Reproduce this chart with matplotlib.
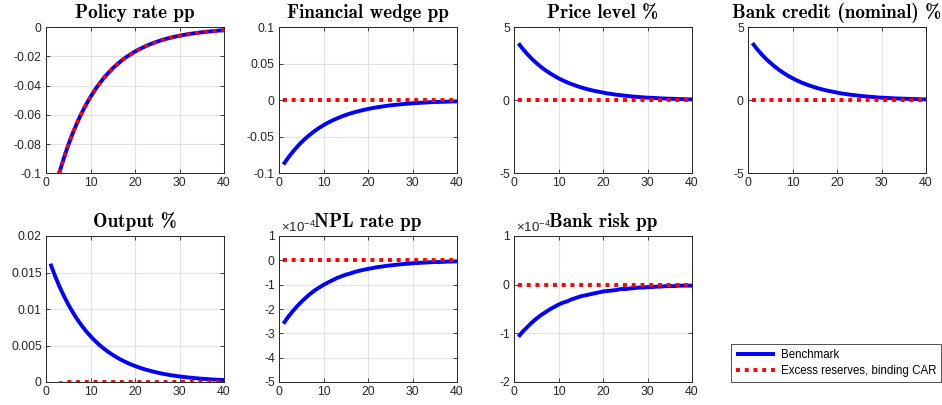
import matplotlib
matplotlib.use("Agg")
import matplotlib.pyplot as plt
import numpy as np

plt.rcParams['font.family'] = ['Liberation Sans', 'DejaVu Sans']
plt.rcParams['axes.unicode_minus'] = False
plt.rcParams['mathtext.fontset'] = 'custom'
plt.rcParams['mathtext.rm'] = 'Liberation Sans'
plt.rcParams['mathtext.it'] = 'Liberation Sans'

periods = list(range(1, 41))

policy_rate = [-0.1230, -0.1107, -0.0996, -0.0897, -0.0807, -0.0726, -0.0654, -0.0588, -0.0530, -0.0477,
               -0.0429, -0.0386, -0.0347, -0.0313, -0.0281, -0.0253, -0.0228, -0.0205, -0.0185, -0.0166,
               -0.0150, -0.0135, -0.0121, -0.0109, -0.0098, -0.0088, -0.0079, -0.0071, -0.0064, -0.0058,
               -0.0052, -0.0047, -0.0042, -0.0038, -0.0034, -0.0031, -0.0028, -0.0025, -0.0022, -0.0020]
policy_rate_alt = list(policy_rate)

fin_wedge = [-0.0880, -0.0792, -0.0713, -0.0642, -0.0577, -0.0520, -0.0468, -0.0421, -0.0379, -0.0341,
             -0.0307, -0.0276, -0.0249, -0.0224, -0.0201, -0.0181, -0.0163, -0.0147, -0.0132, -0.0119,
             -0.0107, -0.0096, -0.0087, -0.0078, -0.0070, -0.0063, -0.0057, -0.0051, -0.0046, -0.0041,
             -0.0037, -0.0034, -0.0030, -0.0027, -0.0024, -0.0022, -0.0020, -0.0018, -0.0016, -0.0014]
fin_wedge_alt = [0.0] * 40

price_level = [3.90, 3.51, 3.16, 2.84, 2.56, 2.30, 2.07, 1.87, 1.68, 1.51,
               1.36, 1.22, 1.10, 0.99, 0.89, 0.80, 0.72, 0.65, 0.59, 0.53,
               0.47, 0.43, 0.38, 0.35, 0.31, 0.28, 0.25, 0.23, 0.20, 0.18,
               0.17, 0.15, 0.13, 0.12, 0.11, 0.10, 0.09, 0.08, 0.07, 0.06]
price_level_alt = [0.0] * 40

bank_credit = [3.92, 3.52, 3.17, 2.85, 2.57, 2.31, 2.08, 1.87, 1.68, 1.51,
               1.36, 1.22, 1.10, 0.99, 0.89, 0.80, 0.72, 0.65, 0.59, 0.53,
               0.47, 0.43, 0.38, 0.35, 0.31, 0.28, 0.25, 0.23, 0.20, 0.18,
               0.17, 0.15, 0.13, 0.12, 0.11, 0.10, 0.09, 0.08, 0.07, 0.06]
bank_credit_alt = [0.0] * 40

output = [0.01620, 0.01458, 0.01312, 0.01181, 0.01063, 0.00957, 0.00861, 0.00775, 0.00697, 0.00628,
          0.00565, 0.00508, 0.00457, 0.00412, 0.00371, 0.00334, 0.00300, 0.00270, 0.00243, 0.00219,
          0.00197, 0.00177, 0.00160, 0.00144, 0.00129, 0.00116, 0.00105, 0.00094, 0.00085, 0.00076,
          0.00069, 0.00062, 0.00056, 0.00050, 0.00045, 0.00041, 0.00036, 0.00033, 0.00029, 0.00027]
output_alt = [-0.0006, -0.0004, -0.0002, -0.0001] + [0.0] * 36

# NPL rate and bank risk in units of 1e-4
npl_rate = [-2.60, -2.34, -2.11, -1.90, -1.71, -1.54, -1.38, -1.24, -1.12, -1.01,
            -0.91, -0.82, -0.73, -0.66, -0.59, -0.54, -0.48, -0.43, -0.39, -0.35,
            -0.32, -0.28, -0.26, -0.23, -0.21, -0.19, -0.17, -0.15, -0.14, -0.12,
            -0.11, -0.10, -0.09, -0.08, -0.07, -0.07, -0.06, -0.05, -0.05, -0.04]
npl_rate_alt = [0.0] * 40

bank_risk = [-1.07, -0.96, -0.87, -0.78, -0.70, -0.63, -0.57, -0.51, -0.46, -0.41,
             -0.37, -0.34, -0.30, -0.27, -0.24, -0.22, -0.20, -0.18, -0.16, -0.14,
             -0.13, -0.12, -0.11, -0.09, -0.09, -0.08, -0.07, -0.06, -0.06, -0.05,
             -0.05, -0.04, -0.04, -0.03, -0.03, -0.03, -0.02, -0.02, -0.02, -0.02]
bank_risk_alt = [0.0] * 40

titles = ['Policy rate pp', 'Financial wedge pp', 'Price level %', 'Bank credit (nominal) %',
          'Output %', 'NPL rate pp', 'Bank risk pp']
x_ticks = [0, 10, 20, 30, 40]
y_ticks = [
    [-0.1, -0.08, -0.06, -0.04, -0.02, 0],
    [-0.1, -0.05, 0, 0.05, 0.1],
    [-5, 0, 5],
    [-5, 0, 5],
    [0, 0.005, 0.01, 0.015, 0.02],
    [-5, -4, -3, -2, -1, 0, 1],
    [-2, -1, 0, 1],
]
y_ticklabels = [
    ['-0.1', '-0.08', '-0.06', '-0.04', '-0.02', '0'],
    ['-0.1', '-0.05', '0', '0.05', '0.1'],
    ['-5', '0', '5'],
    ['-5', '0', '5'],
    ['0', '0.005', '0.01', '0.015', '0.02'],
    ['-5', '-4', '-3', '-2', '-1', '0', '1'],
    ['-2', '-1', '0', '1'],
]
scale_labels = [None, None, None, None, None, r'$\times$10$^{-4}$', r'$\times$10$^{-4}$']
legend_labels = ['Benchmark', 'Excess reserves, binding CAR']

bench = [policy_rate, fin_wedge, price_level, bank_credit, output, npl_rate, bank_risk]
alt = [policy_rate_alt, fin_wedge_alt, price_level_alt, bank_credit_alt, output_alt, npl_rate_alt, bank_risk_alt]

W, H = 942, 405
fig = plt.figure(figsize=(W / 100, H / 100), dpi=100)
lefts = [46, 279, 514, 748]
tops = [27.3, 236]
aw, ah = 178, 146
axc = '#262626'
handles = None
for i in range(7):
    r, c = divmod(i, 4)
    ax = fig.add_axes([lefts[c] / W, 1 - (tops[r] + ah) / H, aw / W, ah / H])
    hb, = ax.plot(periods, bench[i], color='#0000ff', lw=2.8, solid_capstyle='butt', zorder=3)
    ha, = ax.plot(periods, alt[i], color='#ff0000', lw=2.8, linestyle=(0, (1.0, 1.25)),
                  dash_capstyle='butt', zorder=4)
    handles = [hb, ha]
    ax.set_xlim(0, 40)
    ax.set_ylim(y_ticks[i][0], y_ticks[i][-1])
    ax.set_xticks(x_ticks)
    ax.set_xticklabels([str(t) for t in x_ticks])
    ax.set_yticks(y_ticks[i])
    ax.set_yticklabels(y_ticklabels[i])
    ax.grid(True, color='#e2e2e2', lw=0.8)
    ax.set_axisbelow(True)
    ax.tick_params(direction='in', length=3, width=0.6, colors=axc, labelsize=8.8,
                   top=True, right=True, pad=3)
    for s in ax.spines.values():
        s.set_color(axc)
        s.set_linewidth(0.7)
    ax.set_title(titles[i], fontfamily='cmb10', fontsize=13.8, pad=6.5, color='black')
    if scale_labels[i]:
        ax.text(0.01, 1.005, scale_labels[i], transform=ax.transAxes, fontsize=9.5,
                color=axc, ha='left', va='bottom')

leg = fig.legend(handles, legend_labels, loc='upper left',
                 bbox_to_anchor=(731 / W, 1 - 344 / H),
                 fontsize=8.3, frameon=True, fancybox=False, handlelength=3.4,
                 handletextpad=0.45, borderpad=0.45, labelspacing=0.35, borderaxespad=0)
leg.get_frame().set_edgecolor('#262626')
leg.get_frame().set_linewidth(0.7)
fig.savefig('out.png', dpi=100)
